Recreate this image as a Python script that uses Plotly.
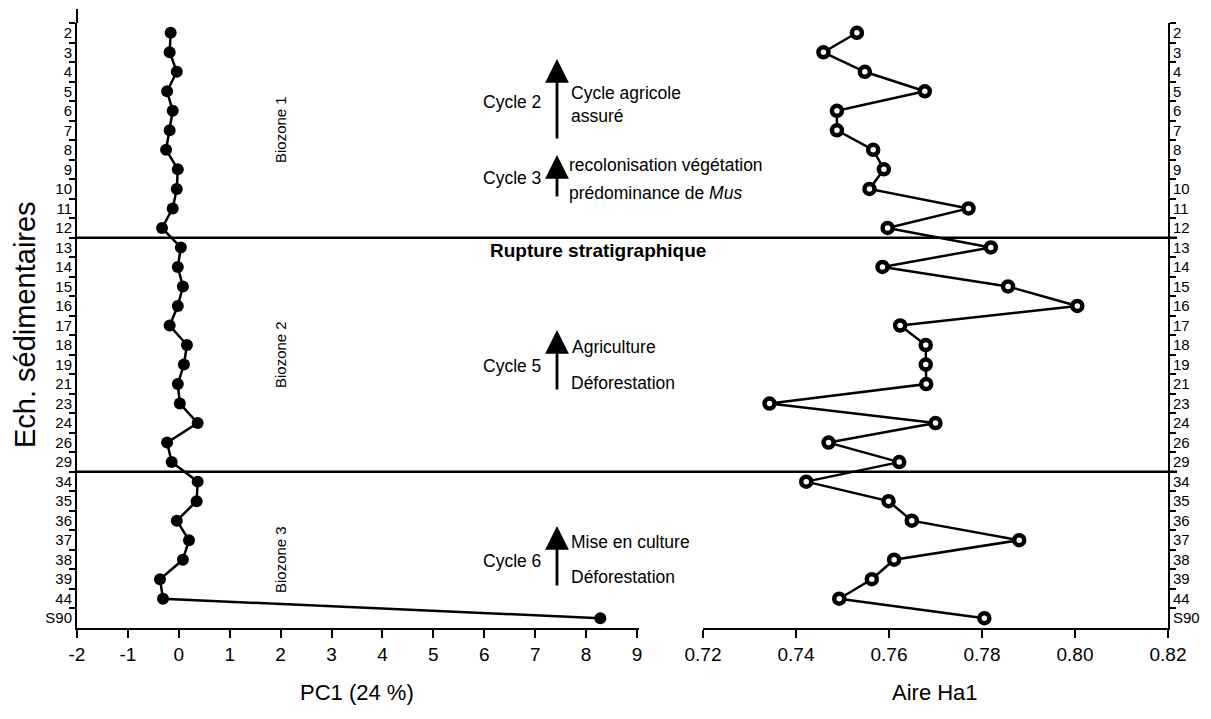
import plotly.graph_objects as go

samples = ["2", "3", "4", "5", "6", "7", "8", "9", "10", "11", "12",
           "13", "14", "15", "16", "17", "18", "19", "21", "23", "24", "26", "29",
           "34", "35", "36", "37", "38", "39", "44", "S90"]
pc1 = [-0.16, -0.18, -0.04, -0.23, -0.12, -0.18, -0.25, -0.02, -0.04, -0.12, -0.33,
       0.04, -0.02, 0.08, -0.02, -0.18, 0.16, 0.10, -0.02, 0.02, 0.37, -0.23, -0.14,
       0.37, 0.35, -0.04, 0.20, 0.08, -0.37, -0.31, 8.28]
ha1 = [0.7531, 0.7459, 0.7548, 0.7677, 0.7488, 0.7488, 0.7566, 0.7589, 0.7558, 0.7771, 0.7597,
       0.7819, 0.7586, 0.7856, 0.8005, 0.7624, 0.7679, 0.7679, 0.7680, 0.7343, 0.7700, 0.7470, 0.7622,
       0.7422, 0.7599, 0.7649, 0.7880, 0.7611, 0.7563, 0.7493, 0.7805]
pc1_ticks = list(range(-2, 10))
pc1_ticklabels = [str(v) for v in pc1_ticks]
ha1_ticks = [0.72, 0.74, 0.76, 0.78, 0.80, 0.82]
ha1_ticklabels = ["0.72", "0.74", "0.76", "0.78", "0.80", "0.82"]
zone_breaks = ["12", "29"]  # lines drawn just below these samples
biozones = [("Biozone 1", 130), ("Biozone 2", 355), ("Biozone 3", 560)]

FONT = "Arial, Liberation Sans, sans-serif"
OFF = 8  # page body margin
W, H = 1211 - OFF, 719 - OFF
# plot area in screen pixels
L, R, T, B = 77, 1168, 23, 628

def px(xp):
    return (xp - L) / (R - L)

def py(yp):
    return (B - yp) / (B - T)

fig = go.Figure()
fig.add_trace(go.Scatter(
    x=pc1, y=samples, mode="lines+markers", xaxis="x", yaxis="y",
    line=dict(color="black", width=2.5),
    marker=dict(color="black", size=12), showlegend=False, cliponaxis=False))
fig.add_trace(go.Scatter(
    x=ha1, y=samples, mode="lines+markers", xaxis="x2", yaxis="y2",
    line=dict(color="black", width=2.5),
    marker=dict(color="white", size=10, line=dict(color="black", width=4.5)),
    showlegend=False, cliponaxis=False))

left_end = (638.5 - L) / (R - L)
right_start = (703 - L) / (R - L)
n = len(samples)

common_y = dict(type="category", categoryorder="array", categoryarray=samples,
                range=[n - 0.5, -0.5], tickson="boundaries", ticks="outside",
                ticklen=6, tickwidth=2, tickcolor="black", showline=True,
                linecolor="black", linewidth=2, showgrid=False, zeroline=False,
                automargin=False,
                tickfont=dict(family=FONT, size=15, color="black"))

common_x = dict(ticks="outside", ticklen=8, tickwidth=2, tickcolor="black",
                showline=True, linecolor="black", linewidth=2, showgrid=False,
                zeroline=False, automargin=False,
                tickfont=dict(family=FONT, size=19, color="black"))

fig.update_layout(
    width=W, height=H, autosize=False,
    margin=dict(l=L - OFF, r=(W + OFF) - R, t=T - OFF, b=(H + OFF) - B, autoexpand=False),
    plot_bgcolor="white", paper_bgcolor="white",
    xaxis=dict(domain=[0, left_end], range=[-2, 9.03], tickvals=pc1_ticks,
               ticktext=pc1_ticklabels, anchor="y", **common_x),
    xaxis2=dict(domain=[right_start, 1], range=[0.72, 0.82], tickvals=ha1_ticks,
                ticktext=ha1_ticklabels, anchor="y2", **common_x),
    yaxis=dict(anchor="x", side="left", **common_y),
    yaxis2=dict(anchor="x2", side="right", **common_y),
)

# stratigraphic boundary lines
for s in zone_breaks:
    yb = samples.index(s) + 0.5
    fig.add_shape(type="line", xref="paper", yref="y", x0=0, x1=px(1177),
                  y0=yb, y1=yb, line=dict(color="black", width=2.5))

# left axis extension at top
fig.add_shape(type="line", xref="paper", yref="paper", x0=0, x1=0,
              y0=1, y1=py(9), line=dict(color="black", width=2))

ann = []
def text(x, y, t, size=14, xanchor="center", angle=0, **kw):
    ann.append(dict(x=px(x), y=py(y), xref="paper", yref="paper", text=t,
                    showarrow=False, xanchor=xanchor, yanchor="middle",
                    textangle=angle,
                    font=dict(family=FONT, size=size, color="black"), **kw))

for name, yy in biozones:
    text(280, yy, name, size=15, angle=-90)

def arrow(x, y_tip, y_tail):
    ann.append(dict(x=px(x), y=py(y_tip), xref="paper", yref="paper",
                    ax=0, ay=y_tail - y_tip, axref="pixel", ayref="pixel",
                    showarrow=True, arrowhead=2, arrowsize=1.7, arrowwidth=2.8,
                    arrowcolor="black", text=""))

FS = 17.5
arrow(557, 59, 140)
text(543, 102, "Cycle 2", size=FS, xanchor="right")
text(569, 93, "Cycle agricole", size=FS, xanchor="left")
text(569, 116, "assuré", size=FS, xanchor="left")

arrow(557, 155, 198)
text(543, 178, "Cycle 3", size=FS, xanchor="right")
text(567, 165, "recolonisation végétation", size=FS, xanchor="left")
text(567, 193, "prédominance de <i>Mus</i>", size=FS, xanchor="left")

text(598, 250, "<b>Rupture stratigraphique</b>", size=19)

arrow(557, 330, 391)
text(543, 366, "Cycle 5", size=FS, xanchor="right")
text(570, 347, "Agriculture", size=FS, xanchor="left")
text(569, 383, "Déforestation", size=FS, xanchor="left")

arrow(557, 526, 587)
text(543, 561, "Cycle 6", size=FS, xanchor="right")
text(569, 542, "Mise en culture", size=FS, xanchor="left")
text(569, 577, "Déforestation", size=FS, xanchor="left")

text(357, 692, "PC1 (24 %)", size=22)
text(935, 692, "Aire Ha1", size=22)
text(25, 325, "Ech. sédimentaires", size=29, angle=-90)

fig.update_layout(annotations=ann)
fig.write_html("out.html")
